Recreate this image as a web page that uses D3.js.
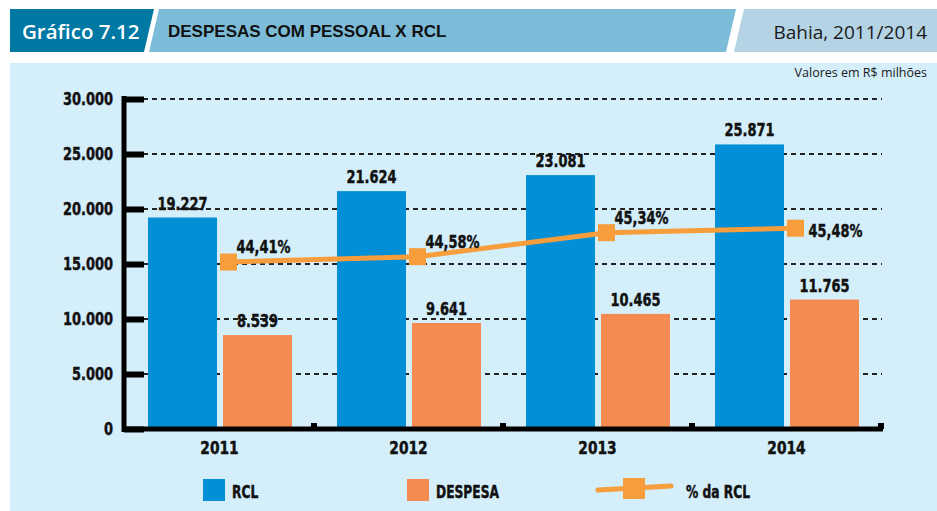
<!DOCTYPE html>
<html>
    <head>
        <meta charset="utf-8" />
        <title>Despesas com pessoal x RCL</title>
        <script src="https://d3js.org/d3.v7.min.js"></script>
        <style>
            body { margin: 0; background: #fff; }
            .num { font-family: "DejaVu Sans Condensed", "DejaVu Sans", sans-serif; font-weight: bold; fill: #111; stroke: #111; stroke-width: 0.45px; }
        </style>
    </head>
    <body>
        <svg width="937" height="511" id="chart"></svg>

        <script>
            // data
            var years = ["2011", "2012", "2013", "2014"];
            var series = ["RCL", "DESPESA"];
            var rcl = [19227, 21624, 23081, 25871];
            var despesa = [8539, 9641, 10465, 11765];
            var pct = [44.41, 44.58, 45.34, 45.48];
            var yTicks = [0, 5000, 10000, 15000, 20000, 25000, 30000];

            var colors = { RCL: "#038fd5", DESPESA: "#f68b52" };
            var lineColor = "#f79d3c";

            var svg = d3.select("#chart");
            var fmtN = function(v) { return d3.format(",")(v).replace(/,/g, "."); };
            var fmtP = function(v) { return d3.format(".2f")(v).replace(".", ",") + "%"; };

            // header band
            svg.append("path").attr("d", "M10,9 H154 L144,52 H10 Z").attr("fill", "#0078a4");
            svg.append("path").attr("d", "M159,9 H736 L726,52 H149 Z").attr("fill", "#7dbcd9");
            svg.append("path").attr("d", "M744,9 H937 V52 H734 Z").attr("fill", "#b4d4e5");
            svg.append("text").attr("x", 22).attr("y", 38.5)
                .style("font-family", "'Open Sans', sans-serif").style("font-weight", 600)
                .style("font-size", "20.5px").attr("fill", "#fff").text("Gráfico 7.12");
            svg.append("text").attr("x", 168).attr("y", 37)
                .style("font-family", "'Liberation Sans', Arial, sans-serif").style("font-weight", "bold")
                .style("font-size", "17px").attr("fill", "#111").text("DESPESAS COM PESSOAL X RCL");
            svg.append("text").attr("x", 927).attr("y", 38.5).attr("text-anchor", "end")
                .style("font-family", "'Open Sans', sans-serif")
                .style("font-size", "19px").attr("fill", "#1a1a1a").text("Bahia, 2011/2014");

            // panel
            svg.append("rect").attr("x", 10).attr("y", 63).attr("width", 927).attr("height", 448).attr("fill", "#d4eefa");
            svg.append("text").attr("x", 927).attr("y", 77).attr("text-anchor", "end")
                .style("font-family", "'Open Sans', sans-serif")
                .style("font-size", "12.5px").attr("fill", "#1a1a1a").text("Valores em R$ milhões");

            // scales
            var x = d3.scaleBand().domain(years).range([125, 881]);
            var xs = d3.scaleBand().domain(series).range([23, 167]).paddingInner(0.08);
            var y = d3.scaleLinear().domain([0, 30000]).range([429, 99]);
            var yp = d3.scaleLinear().domain([40, 50]).range([401.4, 85.4]);

            // dashed grid
            svg.append("g").selectAll("line")
                .data(yTicks.filter(function(d) { return d > 0; }))
                .enter().append("line")
                .attr("x1", 143).attr("x2", 882)
                .attr("y1", function(d) { return y(d); })
                .attr("y2", function(d) { return y(d); })
                .attr("stroke", "#222").attr("stroke-width", 1.8)
                .attr("stroke-dasharray", "5,4");

            // bars
            var rows = years.map(function(yr, i) {
                return { year: yr, RCL: rcl[i], DESPESA: despesa[i], pct: pct[i] };
            });
            var groups = svg.append("g").selectAll("g")
                .data(rows).enter().append("g")
                .attr("transform", function(d) { return "translate(" + x(d.year) + ",0)"; });

            groups.selectAll("rect")
                .data(function(d) { return series.map(function(s) { return { key: s, value: d[s] }; }); })
                .enter().append("rect")
                .attr("x", function(d) { return xs(d.key); })
                .attr("width", xs.bandwidth())
                .attr("y", function(d) { return y(d.value); })
                .attr("height", function(d) { return y(0) - y(d.value); })
                .attr("fill", function(d) { return colors[d.key]; });

            groups.selectAll("text")
                .data(function(d) { return series.map(function(s) { return { key: s, value: d[s] }; }); })
                .enter().append("text")
                .attr("class", "num")
                .attr("x", function(d) { return xs(d.key) + xs.bandwidth() / 2; })
                .attr("y", function(d) { return y(d.value) - 8; })
                .attr("text-anchor", "middle")
                .style("font-size", "18px")
                .text(function(d) { return fmtN(d.value); });

            // y axis
            var yAxis = svg.append("g").attr("transform", "translate(124,0)")
                .call(d3.axisLeft(y).tickValues(yTicks).tickSizeInner(-20).tickSizeOuter(0).tickPadding(11)
                    .tickFormat(function(d) { return fmtN(d); }));
            yAxis.select(".domain").attr("stroke", "#000").attr("stroke-width", 5)
                .attr("d", "M0,96V432");
            yAxis.selectAll(".tick line").attr("stroke", "#000").attr("stroke-width", 6);
            yAxis.selectAll(".tick text").attr("class", "num").style("font-size", "18px");

            // x axis
            var xAxis = svg.append("g").attr("transform", "translate(0,429)")
                .call(d3.axisBottom(x).tickSize(0).tickPadding(13));
            xAxis.select(".domain").attr("stroke", "#000").attr("stroke-width", 5)
                .attr("d", "M122,0H883");
            xAxis.selectAll(".tick text").attr("class", "num yr").style("font-size", "17px");
            xAxis.selectAll(".bump").data(years).enter().append("rect")
                .attr("x", function(d) { return x(d) + x.bandwidth() - 3; })
                .attr("y", -6).attr("width", 6).attr("height", 6).attr("fill", "#000");

            // % da RCL line
            var px = function(d) { return x(d.year) + x.bandwidth() / 2 + 9; };
            var line = d3.line().x(px).y(function(d) { return yp(d.pct); });
            svg.append("path").datum(rows).attr("d", line)
                .attr("fill", "none").attr("stroke", lineColor).attr("stroke-width", 5);
            svg.append("g").selectAll("rect").data(rows).enter().append("rect")
                .attr("x", function(d) { return px(d) - 8.5; })
                .attr("y", function(d) { return yp(d.pct) - 8.5; })
                .attr("width", 17).attr("height", 17).attr("fill", lineColor);
            svg.append("g").selectAll("text").data(rows).enter().append("text")
                .attr("class", "num")
                .attr("x", function(d, i) { return px(d) + (i === rows.length - 1 ? 13 : 8); })
                .attr("y", function(d, i) { return yp(d.pct) + (i === rows.length - 1 ? 9 : -9); })
                .style("font-size", "18px")
                .text(function(d) { return fmtP(d.pct); });

            // legend
            var legend = svg.append("g");
            legend.append("rect").attr("x", 203).attr("y", 479).attr("width", 22).attr("height", 22).attr("fill", colors.RCL);
            legend.append("text").attr("class", "num").attr("x", 232).attr("y", 498).style("font-size", "17px").text("RCL");
            legend.append("rect").attr("x", 407).attr("y", 479).attr("width", 22).attr("height", 22).attr("fill", colors.DESPESA);
            legend.append("text").attr("class", "num").attr("x", 436).attr("y", 498).style("font-size", "17px").text("DESPESA");
            legend.append("line").attr("x1", 598).attr("y1", 490).attr("x2", 671).attr("y2", 486)
                .attr("stroke", lineColor).attr("stroke-width", 5).attr("stroke-linecap", "round");
            legend.append("rect").attr("x", 623).attr("y", 478).attr("width", 22).attr("height", 21).attr("fill", lineColor);
            legend.append("text").attr("class", "num").attr("x", 686).attr("y", 498).style("font-size", "17px").text("% da RCL");

            // squeeze the bold labels to look like a condensed face
            svg.selectAll(".num").each(function() {
                var f = d3.select(this).classed("yr") ? 0.9 : 0.8;
                var w = this.getComputedTextLength();
                d3.select(this).attr("textLength", w * f).attr("lengthAdjust", "spacingAndGlyphs");
            });
        </script>
    </body>
</html>
